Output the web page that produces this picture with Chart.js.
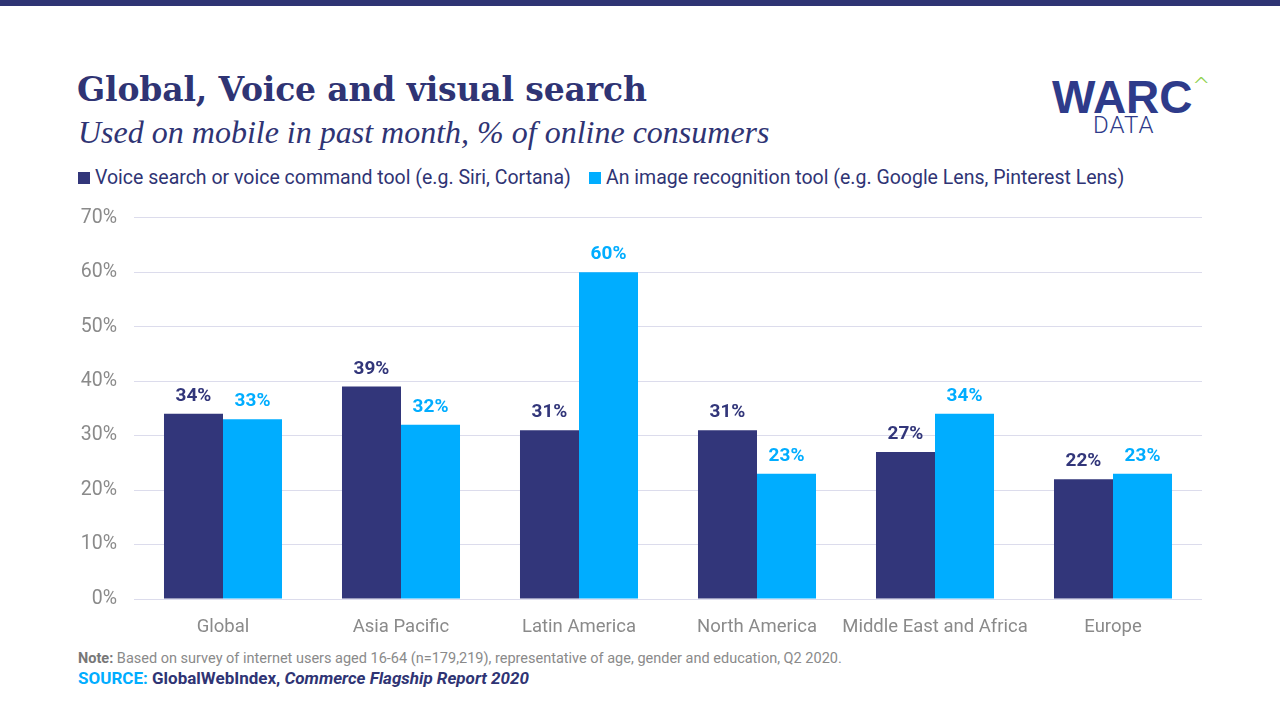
<!DOCTYPE html>
<html>
<head>
<meta charset="utf-8">
<script src="https://cdn.jsdelivr.net/npm/chart.js@4.4.0/dist/chart.umd.min.js"></script>
<style>
  body { margin: 0; width: 1280px; height: 720px; background: #fff; position: relative; overflow: hidden; font-family: "Roboto", "Liberation Sans", sans-serif; }
  .topbar { position: absolute; left: 0; top: 0; width: 1280px; height: 6px; background: #2f3474; }
  .title { position: absolute; left: 77px; top: 70px; font-family: "DejaVu Serif", serif; font-weight: bold; font-size: 33px; color: #2f3474; letter-spacing: -0.15px; }
  .subtitle { position: absolute; left: 78px; top: 114px; font-family: "Liberation Serif", serif; font-style: italic; font-size: 32px; color: #2f3474; }
  .legend { position: absolute; top: 166px; left: 78px; font-size: 19.5px; color: #2f3474; white-space: nowrap; }
  .legend span.item { position: absolute; top: 0; white-space: nowrap; }
  .legend i { display: inline-block; width: 12px; height: 12px; margin-right: 5px; vertical-align: 0px; }
  .logo { position: absolute; left: 1052px; top: 70px; color: #2e3b8a; }
  .logo .w { font-family: "Liberation Sans", sans-serif; font-weight: bold; font-size: 46px; }
  .logo .d { position: absolute; left: 41px; top: 41px; font-size: 24px; letter-spacing: 1px; font-weight: 300; }
  .logo .c { position: absolute; left: 140px; top: 3px; color: #8fd14f; font-size: 22px; font-weight: 300; font-family: "DejaVu Sans", sans-serif; }
  #wrap { position: absolute; left: 0; top: 189px; width: 1280px; height: 461px; }
  .note { position: absolute; left: 78px; top: 650px; font-size: 14.5px; color: #8a8a8a; }
  .note b { color: #777; }
  .source { position: absolute; left: 78px; top: 668px; font-size: 17px; font-weight: bold; color: #2f3474; }
  .source .s { color: #00adff; }
</style>
</head>
<body>
<div class="topbar"></div>
<div class="title">Global, Voice and visual search</div>
<div class="subtitle">Used on mobile in past month, % of online consumers</div>
<div class="legend" id="legend"></div>
<div class="logo"><span class="w">WARC</span><span class="c">^</span><span class="d">DATA</span></div>
<div id="wrap"><canvas id="chart"></canvas></div>
<div class="note"><b>Note:</b> Based on survey of internet users aged 16-64 (n=179,219), representative of age, gender and education, Q2 2020.</div>
<div class="source"><span class="s">SOURCE:</span> GlobalWebIndex, <i>Commerce Flagship Report 2020</i></div>
<script>
const categories = ['Global', 'Asia Pacific', 'Latin America', 'North America', 'Middle East and Africa', 'Europe'];
const seriesNames = ['Voice search or voice command tool (e.g. Siri, Cortana)', 'An image recognition tool (e.g. Google Lens, Pinterest Lens)'];
const voiceValues = [34, 39, 31, 31, 27, 22];
const imageValues = [33, 32, 60, 23, 34, 23];
const seriesColors = ['#32367a', '#00adff'];
const yTicks = [0, 10, 20, 30, 40, 50, 60, 70];

// legend
const legendEl = document.getElementById('legend');
const legendLefts = [0, 511];
seriesNames.forEach(function (name, i) {
    const item = document.createElement('span');
    item.className = 'item';
    item.style.left = legendLefts[i] + 'px';
    item.innerHTML = '<i style="background:' + seriesColors[i] + '"></i>' + name;
    legendEl.appendChild(item);
});

const valueLabels = {
    id: 'valueLabels',
    afterDatasetsDraw(chart) {
        const ctx = chart.ctx;
        ctx.save();
        ctx.font = 'bold 19px Roboto, "Liberation Sans", sans-serif';
        ctx.textAlign = 'center';
        ctx.textBaseline = 'bottom';
        chart.data.datasets.forEach(function (ds, i) {
            ctx.fillStyle = seriesColors[i];
            chart.getDatasetMeta(i).data.forEach(function (bar, j) {
                ctx.fillText(ds.data[j] + '%', bar.x, bar.y - 8);
            });
        });
        ctx.restore();
    }
};

new Chart(document.getElementById('chart'), {
    type: 'bar',
    data: {
        labels: categories,
        datasets: [
            { label: seriesNames[0], data: voiceValues, backgroundColor: seriesColors[0] },
            { label: seriesNames[1], data: imageValues, backgroundColor: seriesColors[1] }
        ]
    },
    options: {
        responsive: true,
        maintainAspectRatio: false,
        animation: false,
        datasets: { bar: { barPercentage: 1, categoryPercentage: 0.663 } },
        layout: { padding: { left: 0, right: 78, top: 10, bottom: 0 } },
        plugins: { legend: { display: false }, tooltip: { enabled: false } },
        scales: {
            x: {
                grid: { display: false },
                border: { display: false },
                ticks: { color: '#8a8a8a', font: { size: 18.5, family: 'Roboto, "Liberation Sans", sans-serif' }, padding: 9, maxRotation: 0, minRotation: 0, autoSkip: false },
                afterFit: function (s) { s.height = 51; }
            },
            y: {
                min: 0,
                max: 70,
                afterBuildTicks: function (s) { s.ticks = yTicks.map(v => ({ value: v })); },
                grid: { color: '#dcdcec', drawTicks: false },
                border: { display: false },
                ticks: { color: '#8a8a8a', font: { size: 19.5, family: 'Roboto, "Liberation Sans", sans-serif' }, padding: 17, callback: v => v + '%' },
                afterFit: function (s) { s.width = 134; }
            }
        }
    },
    plugins: [valueLabels]
});
</script>
</body>
</html>
